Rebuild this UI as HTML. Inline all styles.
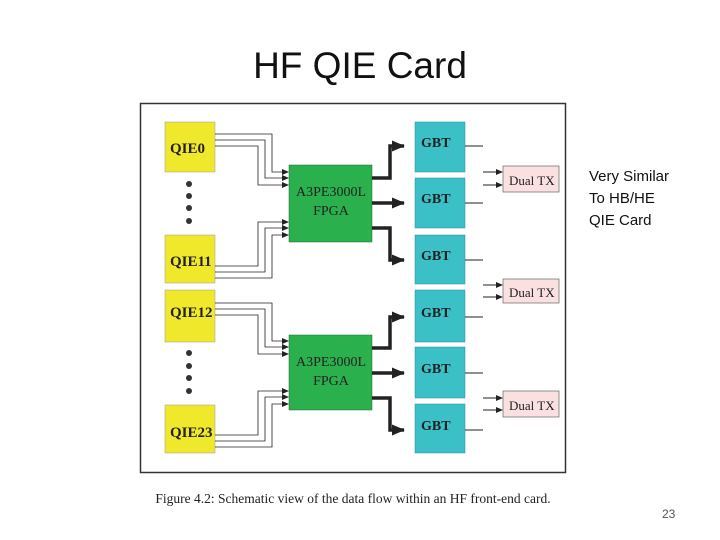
<!DOCTYPE html>
<html><head><meta charset="utf-8"><style>
body{margin:0;background:#fff;width:720px;height:540px;overflow:hidden;position:relative;font-family:"Liberation Sans",sans-serif}
.t{position:absolute}
</style></head><body>
<div class="t" style="left:0;width:720px;top:45px;text-align:center;font-size:37px;color:#111">HF QIE Card</div>
<div class="t" style="left:589px;top:166px;font-size:15px;line-height:22px;color:#111">Very Similar<br>To HB/HE<br>QIE Card</div>
<div class="t" style="left:662px;top:507px;font-size:12px;color:#555">23</div>
<svg class="t" style="left:0;top:0" width="720" height="540" font-family="Liberation Serif,serif">
<defs>
<marker id="a" markerWidth="7" markerHeight="6" refX="6" refY="3" orient="auto" markerUnits="userSpaceOnUse"><path d="M0,0L7,3L0,6z" fill="#222"/></marker>
<marker id="b" markerWidth="13" markerHeight="11" refX="12" refY="5.5" orient="auto" markerUnits="userSpaceOnUse"><path d="M0,0L13,5.5L0,11z" fill="#222"/></marker>
</defs>
<rect x="140.5" y="103.5" width="425" height="369" fill="#fff" stroke="#333" stroke-width="1.5"/>
<g fill="#f0e82a" stroke="#999" stroke-width="0.5">
<rect x="165" y="122" width="50" height="50"/><rect x="165" y="235" width="50" height="48"/>
<rect x="165" y="290" width="50" height="52"/><rect x="165" y="405" width="50" height="48"/>
</g>
<g fill="#222" font-size="15" font-weight="bold"><text x="170" y="153">QIE0</text><text x="170" y="266">QIE11</text><text x="170" y="317">QIE12</text><text x="170" y="437">QIE23</text></g>
<g fill="#333"><circle cx="189" cy="184" r="3"/><circle cx="189" cy="196" r="3"/><circle cx="189" cy="208" r="3"/><circle cx="189" cy="221" r="3"/>
<circle cx="189" cy="353" r="3"/><circle cx="189" cy="366" r="3"/><circle cx="189" cy="378" r="3"/><circle cx="189" cy="391" r="3"/></g>
<g fill="#2bb04e" stroke="#1a6a30" stroke-width="0.5"><rect x="289" y="165" width="83" height="77"/><rect x="289" y="335" width="83" height="75"/></g>
<g fill="#222" font-size="14" text-anchor="middle"><text x="331" y="196">A3PE3000L</text><text x="331" y="215">FPGA</text><text x="331" y="366">A3PE3000L</text><text x="331" y="385">FPGA</text></g>
<g fill="#3cc0c8" stroke="#2a8a90" stroke-width="0.5">
<rect x="415" y="122" width="50" height="50"/><rect x="415" y="178" width="50" height="50"/><rect x="415" y="235" width="50" height="49"/>
<rect x="415" y="290" width="50" height="52"/><rect x="415" y="347" width="50" height="51"/><rect x="415" y="404" width="50" height="49"/></g>
<g fill="#222" font-size="14" font-weight="bold"><text x="421" y="147">GBT</text><text x="421" y="203">GBT</text><text x="421" y="260">GBT</text><text x="421" y="317">GBT</text><text x="421" y="373">GBT</text><text x="421" y="430">GBT</text></g>
<g fill="#fbe0e0" stroke="#666" stroke-width="0.7"><rect x="503" y="166" width="56" height="26"/><rect x="503" y="279" width="56" height="24"/><rect x="503" y="391" width="56" height="26"/></g>
<g fill="#222" font-size="13"><text x="509" y="185">Dual TX</text><text x="509" y="297">Dual TX</text><text x="509" y="410">Dual TX</text></g>
<g stroke="#222" stroke-width="1" fill="none">
<path d="M465 146H483M465 203H483M465 260H483M465 317H483M465 373H483M465 430H483"/>
</g>
<g stroke="#222" stroke-width="1" fill="none" marker-end="url(#a)">
<path d="M483 172H502"/><path d="M483 185H502"/><path d="M483 285H502"/><path d="M483 297H502"/><path d="M483 398H502"/><path d="M483 410H502"/>
</g>
<g stroke="#222" stroke-width="3.5" fill="none" marker-end="url(#b)">
<path d="M372 178H390V146H404"/><path d="M372 203H404"/><path d="M372 228H390V260H404"/>
<path d="M372 348H390V317H404"/><path d="M372 373H404"/><path d="M372 398H390V430H404"/>
</g>
<g stroke="#222" stroke-width="0.8" fill="none" marker-end="url(#a)">
<path d="M215 134H272V172H288"/><path d="M215 140H265V178H288"/><path d="M215 146H258V185H288"/>
<path d="M215 278H272V235H288"/><path d="M215 272H265V228H288"/><path d="M215 266H258V222H288"/>
<path d="M215 303H272V341H288"/><path d="M215 309H265V347H288"/><path d="M215 315H258V354H288"/>
<path d="M215 447H272V404H288"/><path d="M215 441H265V397H288"/><path d="M215 435H258V391H288"/>
</g>
<text x="353" y="503" text-anchor="middle" font-size="13.5" fill="#222">Figure 4.2: Schematic view of the data flow within an HF front-end card.</text>
</svg>
</body></html>
